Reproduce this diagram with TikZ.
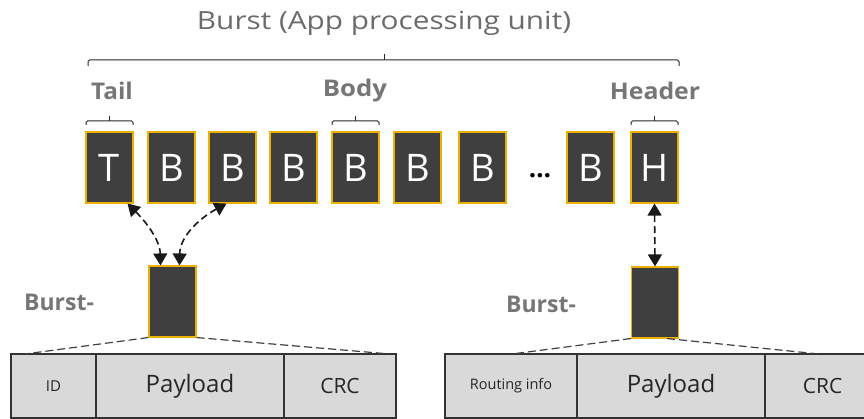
\documentclass[tikz,border=0pt]{standalone}
\usepackage{fontspec}
\setmainfont{Open Sans}
\usepackage{xcolor}
\definecolor{blockgray}{HTML}{3F3F3F}
\definecolor{blockgold}{HTML}{EDB200}
\definecolor{cellgray}{HTML}{D9D9D9}
\definecolor{labelgray}{HTML}{767676}
\usetikzlibrary{arrows.meta}

\begin{document}
\begin{tikzpicture}[
	x=1pt, y=-1pt,
	blk/.style={rectangle, draw=blockgold, fill=blockgray, line width=1.1pt, text=white,
	            minimum width=47pt, minimum height=71pt, inner sep=0pt,
	            font=\fontsize{38}{40}\selectfont},
	cell/.style={rectangle, draw=black!80, fill=cellgray, line width=1.1pt, text=black!85,
	             minimum height=64pt, inner sep=0pt, outer sep=0pt},
	lbl/.style={text=labelgray, font=\bfseries\fontsize{23}{26}\selectfont, inner sep=0pt},
	brk/.style={draw=black!85, line width=1pt, rounded corners=1.5pt},
	arr/.style={{Triangle[length=12pt,width=14pt]}-{Triangle[length=12pt,width=14pt]},
	            dashed, dash pattern=on 7pt off 4pt, line width=1.6pt, black!90},
	fan/.style={dashed, dash pattern=on 8pt off 4pt, line width=1.2pt, black!75}
	]
\useasboundingbox (0,0) rectangle (864,419);
\clip (0,0) rectangle (864,419);

% title and brackets
\node[text=black!58, font=\fontsize{25}{28}\selectfont, inner sep=0pt] (title) at (384,23)
  {\scalebox{1.19}[1]{Burst (App processing unit)}};
\draw[brk] (88,66) -- (88,60) -- (679,60) -- (679,66);
\draw[brk] (384,60) -- (384,54);

\node[lbl] (tail) at (112,91) {\scalebox{1.06}[1]{Tail}};
\node[lbl] (body) at (355,91) {\scalebox{1.12}[1]{Body}};
\node[lbl] (head) at (655,91) {\scalebox{1.08}[1]{Header}};

\foreach \a/\b in {86/133, 332/379, 631/678}{
  \draw[brk] (\a,125) -- (\a,121) -- (\b,121) -- (\b,125);
  \draw[brk] ({(\a+\b)/2},121) -- ({(\a+\b)/2},116);
}

% flits of the burst
\foreach \x/\l/\n in {109.5/T/t, 171.5/B/b1, 232.5/B/b2, 293.5/B/b3, 355.5/B/b4,
                      417.5/B/b5, 482.5/B/b6, 590.5/B/b7, 654.5/H/h}
  \node[blk] (\n) at (\x,167.5) {\l};
\node[font=\bfseries\fontsize{26}{28}\selectfont, inner sep=0pt] (dots) at (540,176) {\dots};

% single flits
\node[blk] (lb) at (172.5,301.5) {};
\node[blk] (rb) at (655,302.5) {};
\node[lbl] (lbt) at (59,302) {Burst-};
\node[lbl] (rbt) at (541,304) {Burst-};

\draw[arr] ([xshift=-6pt]t.south east) .. controls (146,222) and (160,240) .. ([xshift=-12pt]lb.north);
\draw[arr] ([xshift=-6pt]b2.south) .. controls (200,218) and (180,236) .. ([xshift=7pt]lb.north);
\draw[arr] (h.south) -- (rb.north);

% packet fields
\node[cell, minimum width=85pt, font=\fontsize{15}{18}\selectfont] (id) at (53.5,386) {ID};
\node[cell, minimum width=188pt, font=\fontsize{24}{28}\selectfont] (pay) at (190,386) {Payload};
\node[cell, minimum width=112pt, font=\fontsize{21}{24}\selectfont] (crc) at (340,386) {CRC};

\node[cell, minimum width=132pt, font=\fontsize{14.5}{18}\selectfont] (rout) at (511,386) {Routing info};
\node[cell, minimum width=188pt, font=\fontsize{24}{28}\selectfont] (payr) at (671,386) {Payload};
\node[cell, minimum width=115pt, font=\fontsize{21}{24}\selectfont] (crcr) at (822.5,386) {CRC};

\coordinate (lfa) at (25,354);
\coordinate (lfb) at (390,354);
\coordinate (rfa) at (512,354);
\coordinate (rfb) at (819,354);
\draw[fan] (lb.south west) -- (lfa);
\draw[fan] (lb.south east) -- (lfb);
\draw[fan] (rb.south west) -- (rfa);
\draw[fan] ([xshift=-12pt]rb.south east) -- (rfb);
\end{tikzpicture}
\end{document}
